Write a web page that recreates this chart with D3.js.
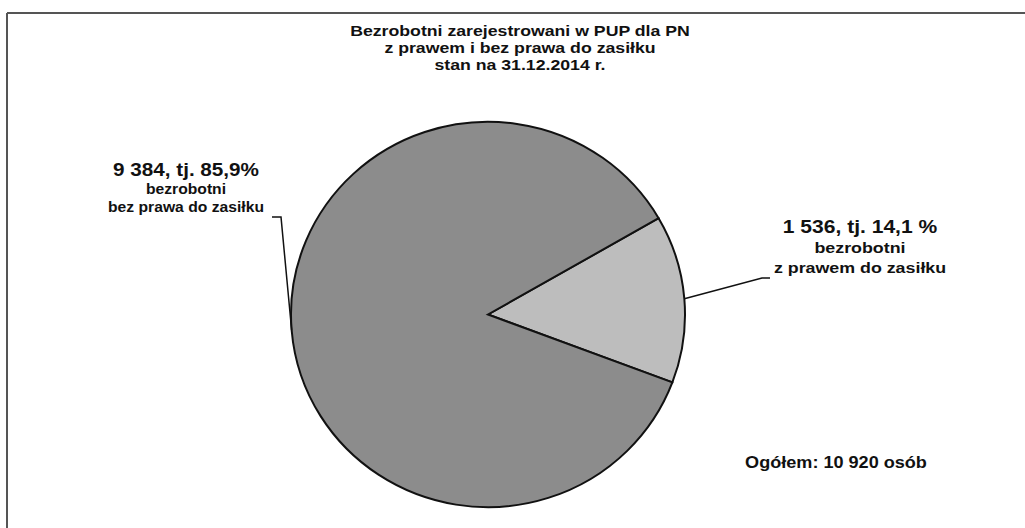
<!DOCTYPE html>
<html>
<head>
<meta charset="utf-8">
<script src="https://cdn.jsdelivr.net/npm/d3@7"></script>
<style>
	body { margin: 0; background: #fff; }
	svg { display: block; font-family: "Liberation Sans", Arial, sans-serif; }
</style>
</head>
<body>
<svg id="chart" width="1025" height="528"></svg>
<script>
// data
var titleLines = ["Bezrobotni zarejestrowani w PUP dla PN", "z prawem i bez prawa do zasiłku", "stan na 31.12.2014 r."];
var categories = ["z prawem do zasiłku", "bez prawa do zasiłku"];
var values = [1536, 9384];
var percents = ["14,1 %", "85,9%"];
var group = "bezrobotni";
var totalLabel = "Ogółem: 10 920 osób";

var pl = d3.formatLocale({ decimal: ",", thousands: " ", grouping: [3], currency: ["", " zł"] });
var fmt = pl.format(",d");

var width = 1025, height = 528;
var svg = d3.select("#chart");

// frame (only top and left edge survived the scan)
svg.append("line")
	.attr("x1", 7).attr("y1", 13).attr("x2", width).attr("y2", 13)
	.attr("stroke", "#555").attr("stroke-width", 2);
svg.append("line")
	.attr("x1", 7).attr("y1", 13).attr("x2", 7).attr("y2", height)
	.attr("stroke", "#555").attr("stroke-width", 2);

// the scanned text is a bit wider than the font, so stretch it horizontally
function wideText(x, sx) {
	return svg.append("g")
		.attr("transform", "translate(" + x + ",0) scale(" + sx + ",1)")
		.append("text")
		.attr("text-anchor", "middle")
		.attr("fill", "#111")
		.attr("font-weight", "bold");
}

// title
var title = wideText(520, 1.18).attr("font-size", 15);
title.selectAll("tspan")
	.data(titleLines)
	.enter().append("tspan")
	.attr("x", 0)
	.attr("y", function(d, i) { return 36 + i * 17; })
	.text(function(d) { return d; });

// pie (slightly squashed, as in the scan)
var cx = 488, cy = 314.5, radius = 197;
var start = 60 * Math.PI / 180;
var pie = d3.pie().sort(null).startAngle(start).endAngle(start + 2 * Math.PI);
var arcs = pie(values);
var arc = d3.arc().innerRadius(0).outerRadius(radius);
var color = d3.scaleOrdinal().domain(categories).range(["#bdbdbd", "#8c8c8c"]);
var squash = 0.978;

var g = svg.append("g").attr("transform", "translate(" + cx + "," + cy + ") scale(1," + squash + ")");
g.selectAll("path")
	.data(arcs)
	.enter().append("path")
	.attr("d", arc)
	.attr("fill", function(d, i) { return color(categories[i]); })
	.attr("stroke", "#111")
	.attr("stroke-width", 2)
	.attr("stroke-linejoin", "miter");

// labels with leader lines
var labels = [
	{ x: 860, y: 233, gap: 20, big: [18, 1.17], small: [15.5, 1.15], elbow: [762, 770] },
	{ x: 186, y: 176, gap: 18, big: [18, 1.15], small: [14, 1.12], elbow: [281, 272] }
];

arcs.forEach(function(d, i) {
	var mid = (d.startAngle + d.endAngle) / 2;
	var px = cx + radius * Math.sin(mid), py = cy - radius * squash * Math.cos(mid);
	var lab = labels[i];
	var ly = lab.y + lab.gap * 2 + 5;
	svg.append("polyline")
		.attr("points", [[px, py], [lab.elbow[0], ly], [lab.elbow[1], ly]].map(function(p) { return p.join(","); }).join(" "))
		.attr("fill", "none")
		.attr("stroke", "#111")
		.attr("stroke-width", 1.5);

	wideText(lab.x, lab.big[1])
		.attr("y", lab.y)
		.attr("font-size", lab.big[0])
		.text(fmt(d.data) + ", tj. " + percents[i]);
	var t = wideText(lab.x, lab.small[1]).attr("font-size", lab.small[0]);
	t.append("tspan")
		.attr("x", 0).attr("y", lab.y + lab.gap)
		.text(group);
	t.append("tspan")
		.attr("x", 0).attr("y", lab.y + lab.gap * 2)
		.text(categories[i]);
});

// total
wideText(836, 1.13)
	.attr("y", 468)
	.attr("font-size", 16)
	.text(totalLabel);
</script>
</body>
</html>
